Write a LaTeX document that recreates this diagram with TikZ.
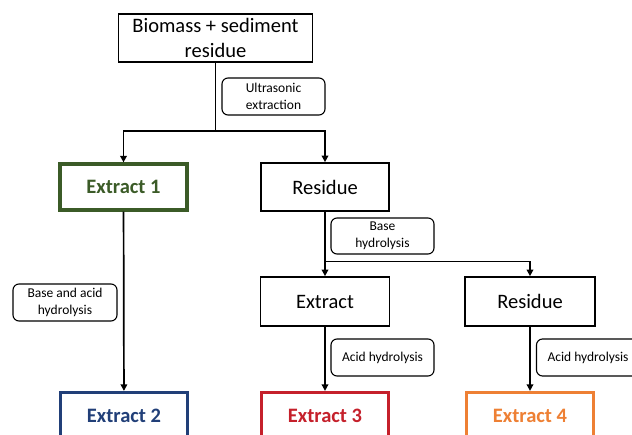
\documentclass[tikz,border=0pt]{standalone}
\usepackage{fontspec}
\setmainfont{Carlito}
\usetikzlibrary{arrows.meta}
\definecolor{cgreen}{HTML}{3B5B27}
\definecolor{cblue}{HTML}{213F78}
\definecolor{cred}{HTML}{C5202B}
\definecolor{corange}{HTML}{EE8034}
\tikzset{
  box/.style={draw=black, line width=1.7pt, fill=white, align=center, inner sep=0pt,
    font=\fontsize{20.5}{25}\selectfont},
  cbox/.style={draw=#1, line width=3.2pt, fill=white, text=#1, align=center, inner sep=0pt,
    font=\fontsize{20.5}{25}\selectfont\bfseries, minimum width=127pt, minimum height=46pt},
  lbl/.style={draw=black, line width=1.1pt, rounded corners=6pt, fill=white, align=center,
    inner sep=0pt, font=\fontsize{13.5}{16.5}\selectfont, minimum width=103pt, minimum height=37pt},
  arr/.style={line width=1.7pt, -{Triangle[length=6.5pt,width=6.5pt]}},
  ln/.style={line width=1.7pt}
}
\begin{document}
\begin{tikzpicture}[x=1pt,y=-1pt]
\useasboundingbox (0,0) rectangle (632,435);
\clip (0,0) rectangle (632,435);
\fill[white] (0,0) rectangle (632,435);
% nodes
\node[box, minimum width=194pt, minimum height=48pt] (top) at (215.5,38) {Biomass + sediment\\residue};
\node[lbl] (ultra) at (273.5,96.5) {Ultrasonic\\extraction};
\node[cbox=cgreen] (ext1) at (123.5,187) {Extract 1};
\node[box, minimum width=128pt, minimum height=48pt] (res1) at (325,187) {Residue};
\node[lbl, minimum height=36pt] (base) at (382.5,236) {Base\\hydrolysis};
\node[box, minimum width=129pt, minimum height=49pt] (extr) at (325,301.5) {Extract};
\node[box, minimum width=130pt, minimum height=49pt] (res2) at (530,301.5) {Residue};
\node[lbl] (acid1) at (382.5,357.5) {Acid hydrolysis};
\node[lbl] (acid2) at (588,357.5) {Acid hydrolysis};
\node[lbl, minimum width=104pt] (bah) at (65,302.5) {Base and acid\\hydrolysis};
\node[cbox=cblue] (ext2) at (124,415.5) {Extract 2};
\node[cbox=cred] (ext3) at (325,415.5) {Extract 3};
\node[cbox=corange] (ext4) at (530,415.5) {Extract 4};
% junctions
\coordinate (j1) at (215.5,131);
\coordinate (j2) at (325,261.5);
% connectors
\draw[ln] (top) -- (j1);
\draw[arr] (j1) -| (ext1);
\draw[arr] (j1) -| (res1);
\draw[arr] (res1) -- (extr);
\draw[arr] (j2) -| (res2);
\draw[arr] (ext1) -- (ext2);
\draw[arr] (extr) -- (ext3);
\draw[arr] (res2) -- (ext4);
\end{tikzpicture}
\end{document}
